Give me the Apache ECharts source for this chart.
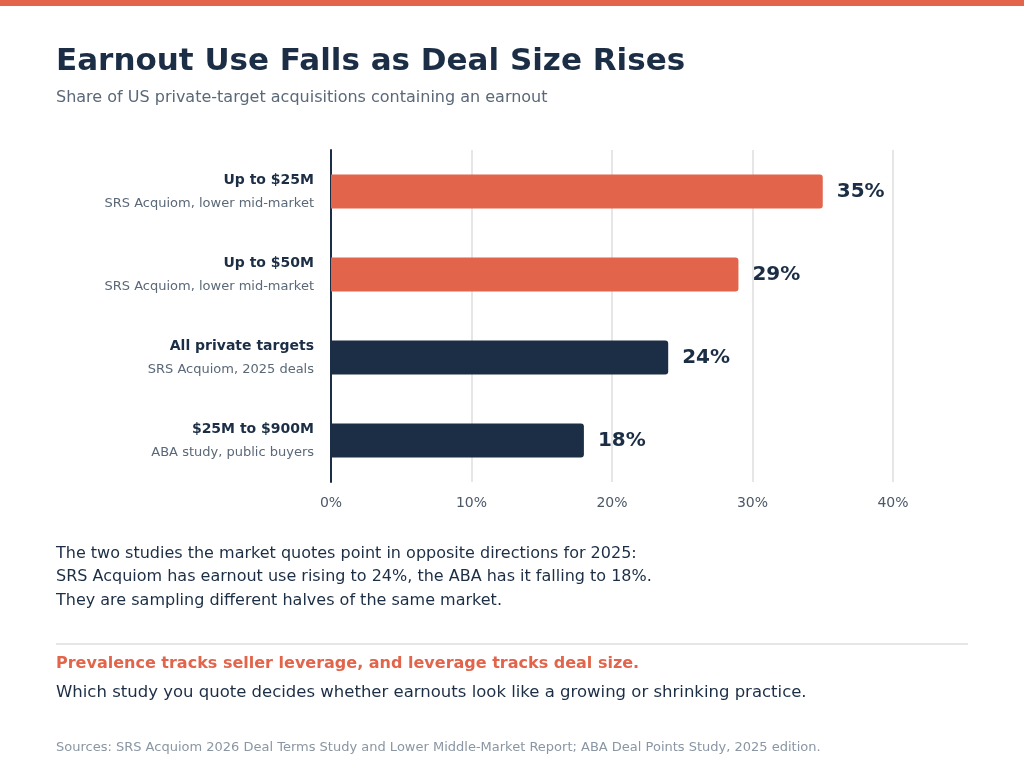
<!DOCTYPE html>
<html><head><meta charset="utf-8">
<script src="https://cdn.jsdelivr.net/npm/echarts@6/dist/echarts.min.js"></script>
<style>html,body{margin:0;padding:0;background:#fff}#c{width:1024px;height:783px}</style>
</head><body><div id="c"></div>
<script>
const categories = ["Up to $25M","Up to $50M","All private targets","$25M to $900M"];
const sublabels = ["SRS Acquiom, lower mid-market","SRS Acquiom, lower mid-market","SRS Acquiom, 2025 deals","ABA study, public buyers"];
const values = [35,29,24,18];
const highlight = [true,true,false,false];
const xTicks = [0,10,20,30,40];
const F = "DejaVu Sans";
const navy = "#1b2e45", orange = "#e2654b";
const chart = echarts.init(document.getElementById('c'));
chart.setOption({
  animation:false,
  textStyle:{fontFamily:F},
  grid:{left:331,right:131,top:150,bottom:301},
  xAxis:{type:'value',min:0,max:40,interval:10,
    axisLabel:{formatter:v=>v+'%',color:'#4a5868',fontSize:14,margin:14,fontFamily:F},
    splitLine:{lineStyle:{color:'#e6e6e6',width:2}},axisLine:{show:false},axisTick:{show:false}},
  yAxis:{type:'category',inverse:true,data:categories.map((c,i)=>c+'\n'+sublabels[i]),
    axisLine:{lineStyle:{color:navy,width:2}},axisTick:{show:false},
    axisLabel:{margin:17,align:'right',formatter:(v,i)=>'{a|'+categories[i]+'}\n{b|'+sublabels[i]+'}',
      rich:{a:{fontSize:14,fontWeight:'bold',color:navy,fontFamily:F,lineHeight:24,align:'right'},
            b:{fontSize:13,color:'#5a6878',fontFamily:F,lineHeight:22,align:'right'}}}},
  series:[{type:'bar',barWidth:34,
    data:values.map((v,i)=>({value:v,itemStyle:{color:highlight[i]?orange:navy}})),
    itemStyle:{borderRadius:[0,3,3,0]},
    label:{show:true,position:'right',distance:14,formatter:p=>p.value+'%',fontSize:20,fontWeight:'bold',color:navy,fontFamily:F}}],
  graphic:[
    {type:'rect',left:0,top:0,shape:{width:1024,height:6},style:{fill:orange}},
    {type:'text',left:56,top:46,style:{text:'Earnout Use Falls as Deal Size Rises',font:'bold 31px "DejaVu Sans"',fill:navy}},
    {type:'text',left:56,top:90,style:{text:'Share of US private-target acquisitions containing an earnout',font:'16px "DejaVu Sans"',fill:'#5a6878'}},
    {type:'text',left:56,top:542,style:{text:'The two studies the market quotes point in opposite directions for 2025:\nSRS Acquiom has earnout use rising to 24%, the ABA has it falling to 18%.\nThey are sampling different halves of the same market.',font:'16px "DejaVu Sans"',fill:navy,lineHeight:23.5}},
    {type:'rect',left:56,top:643,shape:{width:912,height:2},style:{fill:'#e6e6e6'}},
    {type:'text',left:56,top:656,style:{text:'Prevalence tracks seller leverage, and leverage tracks deal size.',font:'bold 16px "DejaVu Sans"',fill:orange}},
    {type:'text',left:56,top:684,style:{text:'Which study you quote decides whether earnouts look like a growing or shrinking practice.',font:'16.5px "DejaVu Sans"',fill:navy}},
    {type:'text',left:56,top:741,style:{text:'Sources: SRS Acquiom 2026 Deal Terms Study and Lower Middle-Market Report; ABA Deal Points Study, 2025 edition.',font:'13px "DejaVu Sans"',fill:'#8a96a3'}}
  ]
});
</script></body></html>
